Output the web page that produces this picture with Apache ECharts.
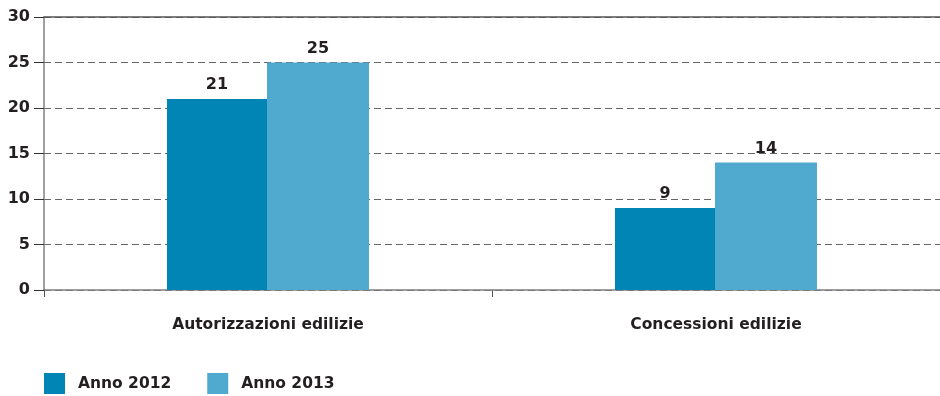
<!DOCTYPE html>
<html>
<head>
<meta charset="utf-8">
<script src="https://cdn.jsdelivr.net/npm/echarts@6/dist/echarts.min.js"></script>
<style>
  html, body { margin: 0; padding: 0; background: #fff; }
  #chart { width: 940px; height: 396px; }
</style>
</head>
<body>
<div id="chart"></div>
<script>
const categories = ['Autorizzazioni edilizie', 'Concessioni edilizie'];
const seriesNames = ['Anno 2012', 'Anno 2013'];
const values2012 = [21, 9];
const values2013 = [25, 14];
const yTicks = [0, 5, 10, 15, 20, 25, 30];

const FONT = '"DejaVu Sans", Verdana, sans-serif';
const TEXT = '#231f20';
const colors = ['#0085b5', '#50aad0'];

const chart = echarts.init(document.getElementById('chart'), null, { renderer: 'canvas' });

const label = {
  show: true,
  position: 'top',
  distance: 6,
  color: TEXT,
  fontFamily: FONT,
  fontWeight: 'bold',
  fontSize: 16
};

chart.setOption({
  animation: false,
  textStyle: { fontFamily: FONT },
  grid: { left: 44, right: 0, top: 17, bottom: 106, containLabel: false },
  legend: {
    left: 44,
    bottom: 2,
    padding: 0,
    itemWidth: 21,
    itemHeight: 21,
    itemGap: 36,
    icon: 'rect',
    textStyle: { color: TEXT, fontFamily: FONT, fontWeight: 'bold', fontSize: 15.5, padding: [0, 0, 0, 8] },
    data: seriesNames
  },
  xAxis: [{
    type: 'category',
    data: categories,
    axisLine: { lineStyle: { color: '#808080', width: 1.5 } },
    axisTick: { show: true, length: 7, lineStyle: { color: '#555' } },
    axisLabel: { color: TEXT, fontFamily: FONT, fontWeight: 'bold', fontSize: 15.5, margin: 27 }
  }, {
    // solid border along the top of the plot area
    type: 'category',
    position: 'top',
    data: categories,
    axisLine: { show: true, lineStyle: { color: '#555', width: 1.5 } },
    axisTick: { show: false },
    axisLabel: { show: false }
  }],
  yAxis: {
    type: 'value',
    min: yTicks[0],
    max: yTicks[yTicks.length - 1],
    interval: 5,
    axisLine: { show: true, lineStyle: { color: '#808080', width: 1.5 } },
    axisTick: { show: true, length: 10, lineStyle: { color: '#333' } },
    axisLabel: { color: TEXT, fontFamily: FONT, fontWeight: 'bold', fontSize: 16, margin: 14 },
    splitLine: { show: true, lineStyle: { color: '#666', type: [7, 4], width: 1 } }
  },
  series: [{
    name: seriesNames[0],
    type: 'bar',
    data: values2012,
    barWidth: 100,
    barGap: '0%',
    itemStyle: { color: colors[0] },
    label
  }, {
    name: seriesNames[1],
    type: 'bar',
    data: values2013,
    barWidth: 102,
    barGap: '0%',
    itemStyle: { color: colors[1] },
    label
  }]
});
</script>
</body>
</html>
